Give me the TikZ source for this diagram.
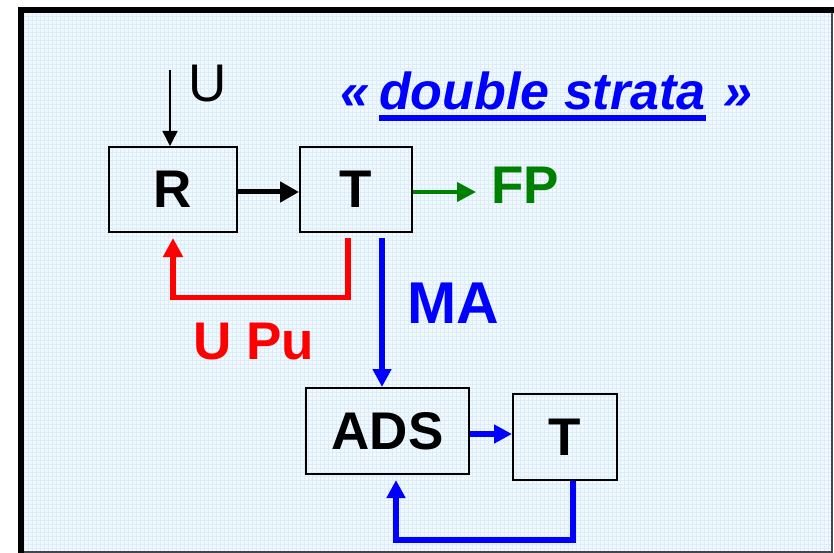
\documentclass[tikz,border=0pt]{standalone}
\usepackage{fontspec}
\setmainfont{Liberation Sans}
\usetikzlibrary{arrows.meta,positioning}
\definecolor{bgfill}{RGB}{241,248,254}
\definecolor{bggrid}{RGB}{220,237,250}
\definecolor{framegray}{RGB}{70,70,70}
\definecolor{cgreen}{RGB}{0,128,0}
\definecolor{cred}{RGB}{255,0,0}
\definecolor{cblue}{RGB}{0,0,255}
\newcommand{\bigfont}[1]{\fontsize{#1}{#1}\selectfont}
\tikzset{
  blk/.style={draw, line width=2pt, font=\bfseries\bigfont{53}, inner sep=0pt, minimum height=85pt},
  lbl/.style={font=\bfseries\bigfont{53}, inner sep=0pt},
  ttl/.style={font=\bfseries\itshape\bigfont{52}, text=cblue, inner sep=0pt},
  uarr/.style={-{Triangle[length=15pt,width=15pt]}, line width=1.5pt},
  karr/.style={-{Triangle[length=19pt,width=20pt]}, line width=5pt},
  garr/.style={-{Triangle[length=19pt,width=19pt]}, cgreen, line width=4pt},
  rarr/.style={-{Triangle[length=19pt,width=19pt]}, cred, line width=5.5pt},
  barr/.style={-{Triangle[length=18pt,width=18pt]}, cblue, line width=5.5pt},
}

\begin{document}
\begin{tikzpicture}[x=1pt,y=-1pt]
\useasboundingbox (0,0) rectangle (834,553);
\fill[bgfill] (21,10) rectangle (832,552);
\draw[bggrid, line width=0.5pt, step=4pt] (21,10) grid (832,552);
\draw[framegray, line width=2pt] (832,10) -- (832,552) -- (21,552);
\draw[line width=6pt] (21,556) -- (21,10) -- (835,10);

\node[blk, minimum width=128pt] (R) at (173,189.5) {R};
\node[blk, minimum width=112pt, right=61pt of R] (T) {T};
\node[blk, minimum width=163pt, minimum height=86pt] (ADS) at (387.5,431) {ADS};
\node[blk, minimum width=104pt, minimum height=86pt] (T2) at (565,437) {T};

\node[font=\bigfont{53}, inner sep=0pt] (U) at (208,84) {U};
\node[lbl, text=cgreen, anchor=west] (FP) at (491,185) {FP};
\node[lbl, text=cred] (UPu) at (253.5,342) {U Pu};
\node[lbl, text=cblue, font=\bfseries\bigfont{59}] (MA) at (453,303.5) {MA};

\node[ttl, anchor=base west] (dbl) at (379,110) {double strata};
\node[ttl, anchor=base east] (lq) at ([xshift=-9pt]dbl.base west) {«};
\node[ttl, anchor=base west] (rq) at ([xshift=17pt]dbl.base east) {»};
\draw[cblue, line width=5.5pt] ([yshift=-8pt]dbl.base west) -- ([yshift=-8pt]dbl.base east);

\coordinate (uin) at (170,70);
\coordinate (rlow) at (0,297.5);
\coordinate (blow) at (0,540);
\draw[uarr] (uin) -- (uin |- R.north);
\draw[karr] ([yshift=-2.5pt]R.east) -- ([yshift=-2.5pt]R.east -| T.west);
\draw[garr, shorten >=15pt] ([yshift=-2.5pt]T.east) -- ([yshift=-2.5pt]T.east -| FP.west);
\draw[rarr] ([xshift=-8pt,yshift=-5pt]T.south) -- ([xshift=-8pt]T.south |- rlow) -| ([yshift=-5pt]R.south);
\draw[barr] ([xshift=26pt,yshift=-5pt]T.south) -- ([xshift=26pt]T.south |- ADS.north);
\draw[barr] ([yshift=-3pt]ADS.east) -- ([yshift=-3pt]ADS.east -| T2.west);
\draw[barr] ([xshift=8pt]T2.south) -- ([xshift=8pt]T2.south |- blow) -| ([xshift=8.5pt,yshift=-5pt]ADS.south);
\end{tikzpicture}
\end{document}
